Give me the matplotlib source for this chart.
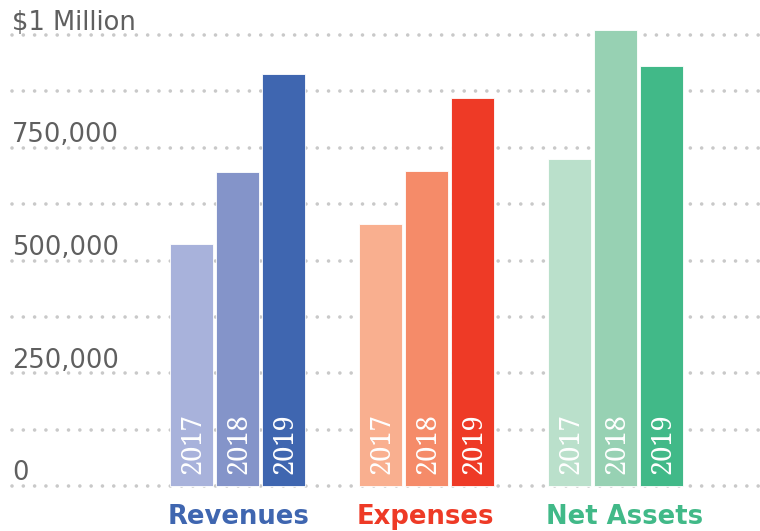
import matplotlib
matplotlib.use("Agg")
import matplotlib.pyplot as plt
import numpy as np

plt.rcParams['lines.scale_dashes'] = False

categories = ["Revenues", "Expenses", "Net Assets"]
years = ["2017", "2018", "2019"]
values = {
    "Revenues":   [537000, 697000, 913000],
    "Expenses":   [582000, 698000, 861000],
    "Net Assets": [725000, 1010000, 931000],
}
bar_colors = {
    "Revenues":   ["#a8b2db", "#8494c9", "#3f66b0"],
    "Expenses":   ["#f9af8f", "#f58b69", "#ee3a26"],
    "Net Assets": ["#bae0cb", "#97d1b3", "#41b988"],
}
label_colors = {"Revenues": "#3f66b0", "Expenses": "#ee3a26", "Net Assets": "#41b988"}
tick_values = [0, 250000, 500000, 750000, 1000000]
tick_labels = ["0", "250,000", "500,000", "750,000", "$1 Million"]
grid_values = np.arange(0, 1000001, 125000)

W, H = 760, 531
fig = plt.figure(figsize=(W / 100, H / 100), dpi=100)
ax = fig.add_axes([0, 0, 1, 1])
ax.set_axis_off()

# pixel mapping
px_group = 189.0
x0_px = 237.5
ax.set_xlim((0 - x0_px) / px_group, (W - x0_px) / px_group)
y0_px, ypx_per = 486.0, 451.0 / 1e6
ax.set_ylim((y0_px - H) / ypx_per, y0_px / ypx_per)
py = 1 / ypx_per  # data units per pixel (y)

pitch = 46 / px_group
width = 43 / px_group

for gv in grid_values:
    ax.axhline(gv, xmin=12 / W, xmax=1, color="#c9c9c9", lw=2.6,
               linestyle=(0, (0.01, 8.13)), dash_capstyle="round", zorder=1)

for tv, tl in zip(tick_values, tick_labels):
    ax.text((12 - x0_px) / px_group, tv + 5.5 * py, tl, ha="left", va="baseline",
            fontsize=18.5, color="#5f5f5f", family="DejaVu Sans", zorder=3)

for g, cat in enumerate(categories):
    for j, yr in enumerate(years):
        x = g + (j - 1) * pitch
        ax.bar(x, values[cat][j], width=width, color=bar_colors[cat][j],
               edgecolor="white", linewidth=0.6, zorder=2)
        ax.text(x + 2 / px_group, 12 * py, yr, rotation=90, ha="center", va="bottom",
                fontsize=19.5, color="white",
                family=["Noto Serif", "Liberation Serif", "DejaVu Serif"], zorder=4)
    left = g - pitch - width / 2
    ax.text(left - 2 / px_group, -38.3 * py, cat, ha="left", va="baseline",
            fontsize=18.6, fontweight="bold", color=label_colors[cat],
            family="DejaVu Sans", zorder=4)

fig.savefig("out.png", dpi=100)
